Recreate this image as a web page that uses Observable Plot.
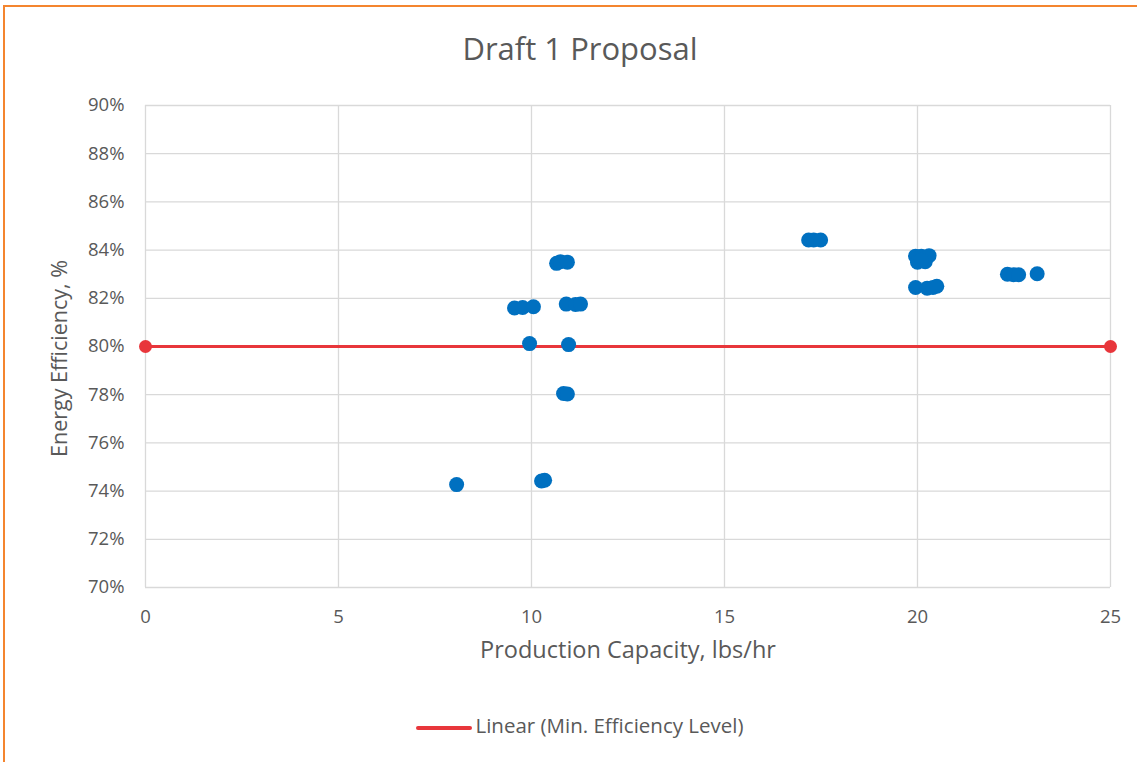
<!DOCTYPE html>
<html>
<head>
<meta charset="utf-8">
<script src="https://cdn.jsdelivr.net/npm/d3@7"></script>
<script src="https://cdn.jsdelivr.net/npm/@observablehq/plot@0.6"></script>
<style>
  html, body { margin: 0; padding: 0; background: #fff; }
  #frame { position: absolute; left: 3px; top: 5px; width: 1140px; height: 762px;
           border-left: 2px solid #f4852f; border-top: 2px solid #f4852f; box-sizing: border-box; background:#fff; }
  #wrap { position: absolute; left: 0; top: 0; width: 1137px; height: 762px; font-family: "Open Sans", sans-serif; color: #595959; }
  #title { position: absolute; left: 0; top: 27px; width: 1160px; text-align: center; font-size: 31px; color: #595959; }
  #chart { position: absolute; left: 0; top: 90px; }
  #legend { position: absolute; left: 0; top: 711px; width: 1160px; text-align: center; font-size: 20.5px; color: #595959; }
  #legend .sw { display: inline-block; width: 56px; height: 4px; background: #e8363b; vertical-align: middle; margin-right: 3px; border-radius: 2px; }
</style>
</head>
<body>
<div id="frame"></div>
<div id="wrap">
  <div id="title">Draft 1 Proposal</div>
  <div id="chart"></div>
  <div id="legend"><span class="sw"></span>Linear (Min. Efficiency Level)</div>
</div>
<script>
// Production capacity (lbs/hr) and energy efficiency (%) of models
const capacity = [8.06, 9.56, 9.77, 10.05, 9.95, 10.26, 10.34, 10.65, 10.75, 10.93,
                  10.9, 11.14, 11.27, 10.96, 10.83, 10.93,
                  17.18, 17.31, 17.49,
                  19.95, 20.1, 20.3, 20.0, 20.2, 20.1, 19.95, 20.25, 20.4, 20.5,
                  22.33, 22.49, 22.62, 23.1];
const efficiency = [74.27, 81.6, 81.62, 81.65, 80.12, 74.42, 74.45, 83.45, 83.52, 83.5,
                    81.76, 81.74, 81.76, 80.08, 78.05, 78.03,
                    84.42, 84.42, 84.42,
                    83.75, 83.75, 83.77, 83.5, 83.52, 83.58, 82.45, 82.42, 82.45, 82.5,
                    83.0, 82.98, 82.98, 83.02];
// Minimum efficiency level
const minX = [0, 25];
const minY = [80, 80];
const xTicks = [0, 5, 10, 15, 20, 25];
const yTicks = [70, 72, 74, 76, 78, 80, 82, 84, 86, 88, 90];

const pts = capacity.map((c, i) => ({c, e: efficiency[i]}));
const line = minX.map((x, i) => ({x, y: minY[i]}));

const plot = Plot.plot({
  width: 1137,
  height: 590,
  marginTop: 15,
  marginBottom: 93,
  marginLeft: 145,
  marginRight: 27,
  style: { fontFamily: "Open Sans, sans-serif", fontSize: "18.5px", color: "#595959", overflow: "visible" },
  x: { domain: [0, 25], ticks: xTicks, tickSize: 0, tickPadding: 22, label: null },
  y: { domain: [70, 90], ticks: yTicks, tickSize: 0, tickPadding: 21, tickFormat: d => d + "%", label: null },
  marks: [
    Plot.gridX(xTicks, { stroke: "#d9d9d9", strokeOpacity: 1, strokeWidth: 1.3 }),
    Plot.gridY(yTicks, { stroke: "#d9d9d9", strokeOpacity: 1, strokeWidth: 1.3 }),
    Plot.axisX({ ticks: xTicks, tickSize: 0, tickPadding: 22, fill: "#595959", label: null }),
    Plot.axisY({ ticks: yTicks, tickSize: 0, tickPadding: 21, tickFormat: d => d + "%", fill: "#595959", label: null }),
    Plot.text(["Production Capacity, lbs/hr"], { frameAnchor: "bottom", dy: 70, fontSize: 23.5, fill: "#595959" }),
    Plot.text(["Energy Efficiency, %"], { frameAnchor: "left", textAnchor: "middle", dx: -85, dy: 12, rotate: -90, fontSize: 21.5, fill: "#595959" }),
    Plot.line(line, { x: "x", y: "y", stroke: "#e8363b", strokeWidth: 3 }),
    Plot.dot(line, { x: "x", y: "y", fill: "#e8363b", r: 6.5 }),
    Plot.dot(pts, { x: "c", y: "e", fill: "#0070c0", r: 7.5 })
  ]
});
document.getElementById("chart").appendChild(plot);
</script>
</body>
</html>
